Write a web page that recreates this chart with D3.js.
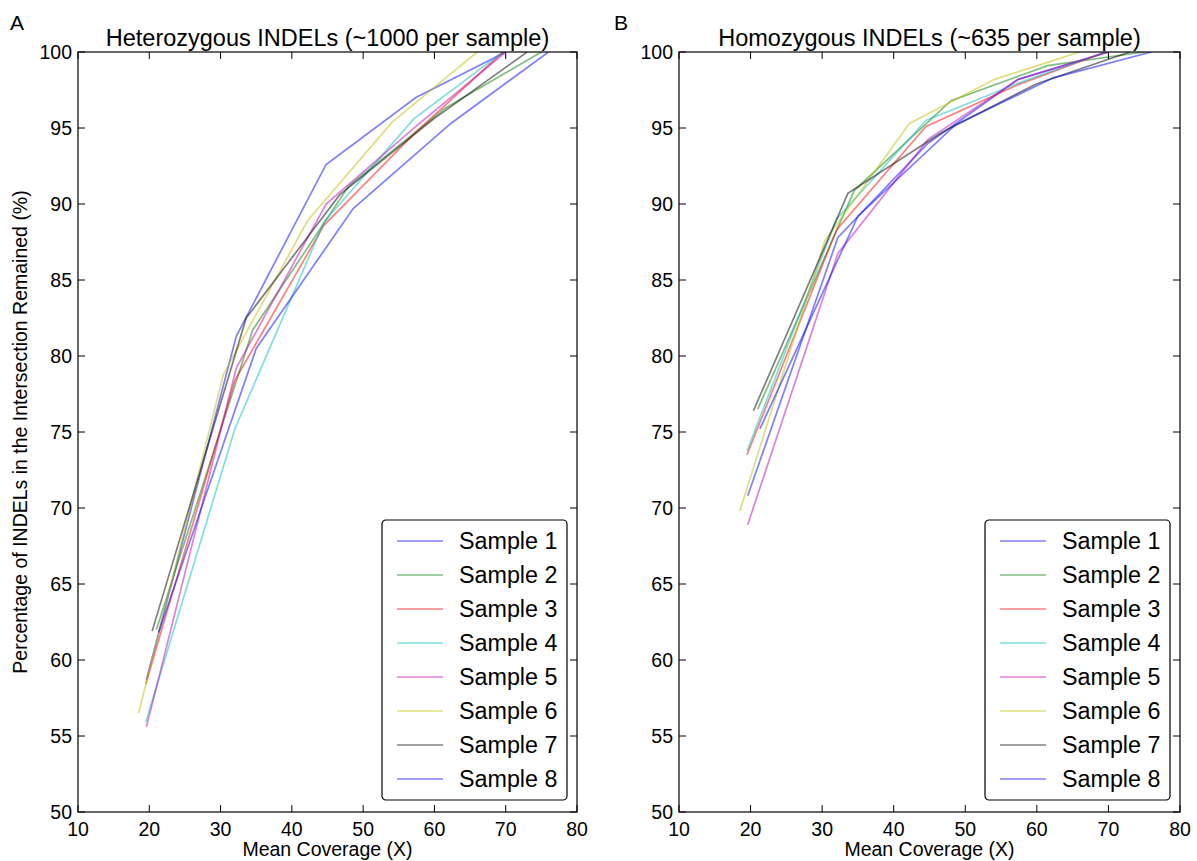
<!DOCTYPE html>
<html>
<head>
<meta charset="utf-8">
<script src="https://cdn.jsdelivr.net/npm/d3@7"></script>
<style>
  body { margin: 0; background: #fff; }
  text { font-family: "Liberation Sans", Arial, sans-serif; fill: #000; }
</style>
</head>
<body>
<div id="chart"></div>
<script>
const width = 1197;
const height = 861;

const sampleNames = ["Sample 1", "Sample 2", "Sample 3", "Sample 4", "Sample 5", "Sample 6", "Sample 7", "Sample 8"];
const sampleColors = ["#0000ff", "#008000", "#ff0000", "#00bfbf", "#bf00bf", "#bfbf00", "#000000", "#0000ff"];

// mean coverage for each downsampling step, per sample
const coverage = [
    [19.6, 32.2, 44.8, 57.4, 70.0],
    [21.0, 34.5, 48.0, 61.5, 75.0],
    [19.5, 32.0, 44.5, 57.1, 69.6],
    [19.5, 32.0, 44.5, 57.1, 69.6],
    [19.6, 32.2, 44.8, 57.4, 70.0],
    [18.5, 30.4, 42.2, 54.1, 66.0],
    [20.4, 33.6, 46.7, 59.9, 73.0],
    [21.3, 35.0, 48.6, 62.3, 76.0]
];

// percentage remained, heterozygous
const hetValues = [
    [58.7, 81.3, 92.6, 97.0, 100],
    [62.0, 81.7, 91.2, 96.3, 100],
    [58.4, 78.4, 88.6, 94.6, 100],
    [55.9, 75.2, 88.8, 95.6, 100],
    [55.6, 79.2, 90.0, 95.1, 100],
    [56.5, 78.8, 88.9, 95.4, 100],
    [61.9, 82.5, 90.6, 95.6, 100],
    [61.8, 80.5, 89.7, 95.3, 100]
];

// percentage remained, homozygous
const homValues = [
    [70.8, 87.8, 94.0, 98.2, 100],
    [76.5, 90.9, 96.8, 99.1, 100],
    [73.5, 88.3, 95.1, 97.8, 100],
    [73.75, 89.0, 95.5, 97.9, 100],
    [68.9, 86.75, 94.25, 98.2, 100],
    [69.8, 87.6, 95.3, 98.2, 100],
    [76.4, 90.7, 94.7, 97.9, 100],
    [75.2, 89.2, 95.2, 98.3, 100]
];

const xTicks = [10, 20, 30, 40, 50, 60, 70, 80];
const yTicks = [50, 55, 60, 65, 70, 75, 80, 85, 90, 95, 100];

const svg = d3.select("#chart").append("svg")
    .attr("width", width)
    .attr("height", height);

const panels = [
    { letter: "A", title: "Heterozygous INDELs (~1000 per sample)", values: hetValues, left: 78, right: 577, letterX: 10 },
    { letter: "B", title: "Homozygous INDELs (~635 per sample)", values: homValues, left: 679, right: 1180, letterX: 614 }
];

const plotTop = 52, plotBottom = 812, tickLen = 7;

panels.forEach(p => {
    const x = d3.scaleLinear().domain([10, 80]).range([p.left, p.right]);
    const y = d3.scaleLinear().domain([50, 100]).range([plotBottom, plotTop]);
    const g = svg.append("g");

    // lines first, clipped to the frame
    const clipId = "clip" + p.letter;
    svg.append("clipPath").attr("id", clipId)
        .append("rect").attr("x", p.left).attr("y", plotTop)
        .attr("width", p.right - p.left).attr("height", plotBottom - plotTop);

    const line = d3.line().x(d => x(d[0])).y(d => y(d[1]));
    g.append("g").attr("clip-path", `url(#${clipId})`)
        .selectAll("path")
        .data(p.values.map((v, i) => ({ i, pts: v.map((val, j) => [coverage[i][j], val]) })))
        .join("path")
        .attr("d", d => line(d.pts))
        .attr("fill", "none")
        .attr("stroke", d => sampleColors[d.i])
        .attr("stroke-opacity", 0.5)
        .attr("stroke-width", 1.7);

    // ticks on all four sides, pointing inward
    const tk = g.append("g").attr("stroke", "#000").attr("stroke-width", 1);
    xTicks.forEach(t => {
        tk.append("line").attr("x1", x(t)).attr("x2", x(t)).attr("y1", plotBottom).attr("y2", plotBottom - tickLen);
        tk.append("line").attr("x1", x(t)).attr("x2", x(t)).attr("y1", plotTop).attr("y2", plotTop + tickLen);
    });
    yTicks.forEach(t => {
        tk.append("line").attr("x1", p.left).attr("x2", p.left + tickLen).attr("y1", y(t)).attr("y2", y(t));
        tk.append("line").attr("x1", p.right).attr("x2", p.right - tickLen).attr("y1", y(t)).attr("y2", y(t));
    });

    g.selectAll(".xl").data(xTicks).join("text")
        .attr("x", d => x(d)).attr("y", plotBottom + 24)
        .attr("text-anchor", "middle").attr("font-size", 19.5)
        .text(d => d);
    g.selectAll(".yl").data(yTicks).join("text")
        .attr("x", p.left - 6).attr("y", d => y(d) + 7)
        .attr("text-anchor", "end").attr("font-size", 19.5)
        .text(d => d);

    g.append("rect")
        .attr("x", p.left).attr("y", plotTop)
        .attr("width", p.right - p.left).attr("height", plotBottom - plotTop)
        .attr("fill", "none").attr("stroke", "#000").attr("stroke-width", 1.2);

    g.append("text")
        .attr("x", (p.left + p.right) / 2).attr("y", 46)
        .attr("text-anchor", "middle").attr("font-size", 23.5)
        .text(p.title);
    g.append("text")
        .attr("x", p.letterX).attr("y", 30)
        .attr("font-size", 21)
        .text(p.letter);
    g.append("text")
        .attr("x", (p.left + p.right) / 2).attr("y", 856)
        .attr("text-anchor", "middle").attr("font-size", 19.5)
        .text("Mean Coverage (X)");

    // legend
    const lx = p.right - 195, ly = 520;
    const lg = g.append("g").attr("transform", `translate(${lx},${ly})`);
    lg.append("rect")
        .attr("x", 0).attr("y", 0).attr("width", 185).attr("height", 280)
        .attr("rx", 4)
        .attr("fill", "#fff").attr("stroke", "#000").attr("stroke-width", 1.2);
    sampleNames.forEach((name, i) => {
        const yy = 21 + i * 34;
        lg.append("line")
            .attr("x1", 15).attr("x2", 61).attr("y1", yy).attr("y2", yy)
            .attr("stroke", sampleColors[i]).attr("stroke-opacity", 0.5).attr("stroke-width", 1.7);
        lg.append("text")
            .attr("x", 77).attr("y", yy + 8)
            .attr("font-size", 23.3)
            .text(name);
    });
});

svg.append("text")
    .attr("transform", `translate(27,${(plotTop + plotBottom) / 2}) rotate(-90)`)
    .attr("text-anchor", "middle").attr("font-size", 19.5)
    .text("Percentage of INDELs in the Intersection Remained (%)");
</script>
</body>
</html>
